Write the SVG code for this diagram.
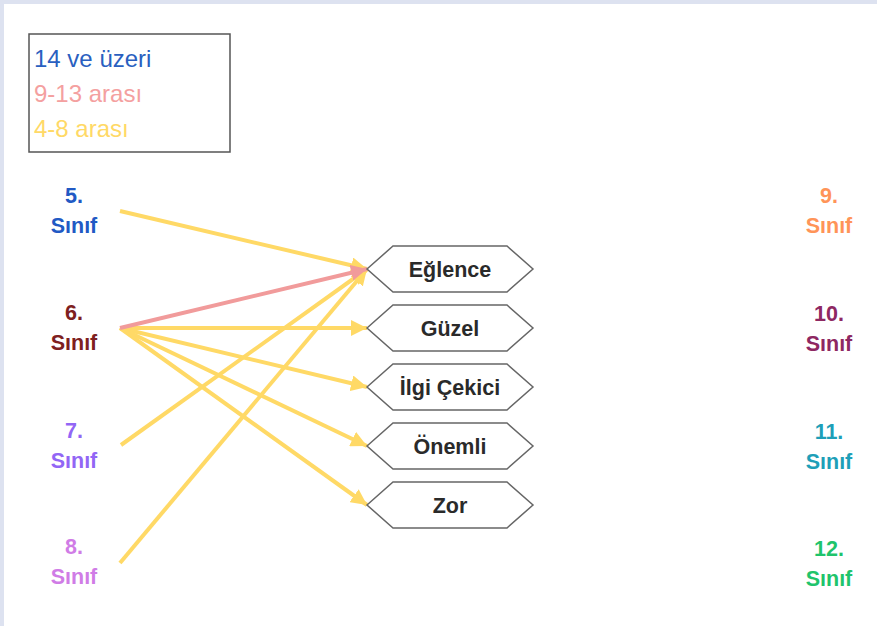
<svg xmlns="http://www.w3.org/2000/svg" width="877" height="626" viewBox="0 0 877 626">
<defs>
<style>
.lbl{font-family:"Liberation Sans",Arial,sans-serif;font-weight:bold;font-size:21.5px;text-anchor:middle}
.leg{font-family:"Liberation Sans",Arial,sans-serif;font-size:24px}
.hex{fill:#fff;stroke:#666;stroke-width:1.5}
.ht{font-family:"Liberation Sans",Arial,sans-serif;font-weight:bold;font-size:21.5px;fill:#2a2a2a;text-anchor:middle}
.y{stroke:#ffd966;stroke-width:4;fill:none;marker-end:url(#ay)}
.p{stroke:#f19b9b;stroke-width:4;fill:none;marker-end:url(#ap)}
</style>
<marker id="ay" markerUnits="userSpaceOnUse" markerWidth="18" markerHeight="16" refX="16" refY="8" orient="auto"><path d="M0,0 L16,8 L0,16 Z" fill="#ffd966"/></marker>
<marker id="ap" markerUnits="userSpaceOnUse" markerWidth="18" markerHeight="16" refX="16" refY="8" orient="auto"><path d="M0,0 L16,8 L0,16 Z" fill="#f19b9b"/></marker>
</defs>
<rect x="0" y="0" width="877" height="626" fill="#dde2f0"/>
<rect x="4" y="4" width="873" height="622" fill="#fff"/>
<g id="legend">
<rect x="29" y="34" width="201" height="118" fill="#fff" stroke="#555" stroke-width="1.5"/>
<text class="leg" x="34" y="67" fill="#2a5fc0">14 ve üzeri</text>
<text class="leg" x="34" y="102" fill="#f4a0a0">9-13 arası</text>
<text class="leg" x="34" y="137" fill="#ffd966">4-8 arası</text>
</g>
<g id="connectors">
<line class="y" x1="120" y1="211" x2="367" y2="269"/>
<line class="y" x1="120" y1="328" x2="367" y2="328"/>
<line class="y" x1="120" y1="328" x2="367" y2="387"/>
<line class="y" x1="120" y1="328" x2="367" y2="446"/>
<line class="y" x1="120" y1="328" x2="367" y2="505"/>
<line class="y" x1="121" y1="445" x2="367" y2="269"/>
<line class="y" x1="120" y1="563" x2="367" y2="269"/>
<line class="p" x1="120" y1="328" x2="367" y2="269"/>
</g>
<g id="c5"><text class="lbl" x="74" y="203" fill="#2159c4">5.</text><text class="lbl" x="74" y="233" fill="#2159c4">Sınıf</text></g>
<g id="c6"><text class="lbl" x="74" y="320" fill="#7e2020">6.</text><text class="lbl" x="74" y="350" fill="#7e2020">Sınıf</text></g>
<g id="c7"><text class="lbl" x="74" y="438" fill="#9266f5">7.</text><text class="lbl" x="74" y="468" fill="#9266f5">Sınıf</text></g>
<g id="c8"><text class="lbl" x="74" y="554" fill="#d07ce6">8.</text><text class="lbl" x="74" y="584" fill="#d07ce6">Sınıf</text></g>
<g id="c9"><text class="lbl" x="829" y="203" fill="#ff9458">9.</text><text class="lbl" x="829" y="233" fill="#ff9458">Sınıf</text></g>
<g id="c10"><text class="lbl" x="829" y="321" fill="#8e2862">10.</text><text class="lbl" x="829" y="351" fill="#8e2862">Sınıf</text></g>
<g id="c11"><text class="lbl" x="829" y="439" fill="#1e9fb8">11.</text><text class="lbl" x="829" y="469" fill="#1e9fb8">Sınıf</text></g>
<g id="c12"><text class="lbl" x="829" y="556" fill="#1fc46c">12.</text><text class="lbl" x="829" y="586" fill="#1fc46c">Sınıf</text></g>
<g id="eglence"><polygon class="hex" points="367,269 393,246 507,246 533,269 507,292 393,292"/><text class="ht" x="450" y="277">Eğlence</text></g>
<g id="guzel"><polygon class="hex" points="367,328 393,305 507,305 533,328 507,351 393,351"/><text class="ht" x="450" y="336">Güzel</text></g>
<g id="ilgi"><polygon class="hex" points="367,387 393,364 507,364 533,387 507,410 393,410"/><text class="ht" x="450" y="395">İlgi Çekici</text></g>
<g id="onemli"><polygon class="hex" points="367,446 393,423 507,423 533,446 507,469 393,469"/><text class="ht" x="450" y="454">Önemli</text></g>
<g id="zor"><polygon class="hex" points="367,505 393,482 507,482 533,505 507,528 393,528"/><text class="ht" x="450" y="513">Zor</text></g>
</svg>
